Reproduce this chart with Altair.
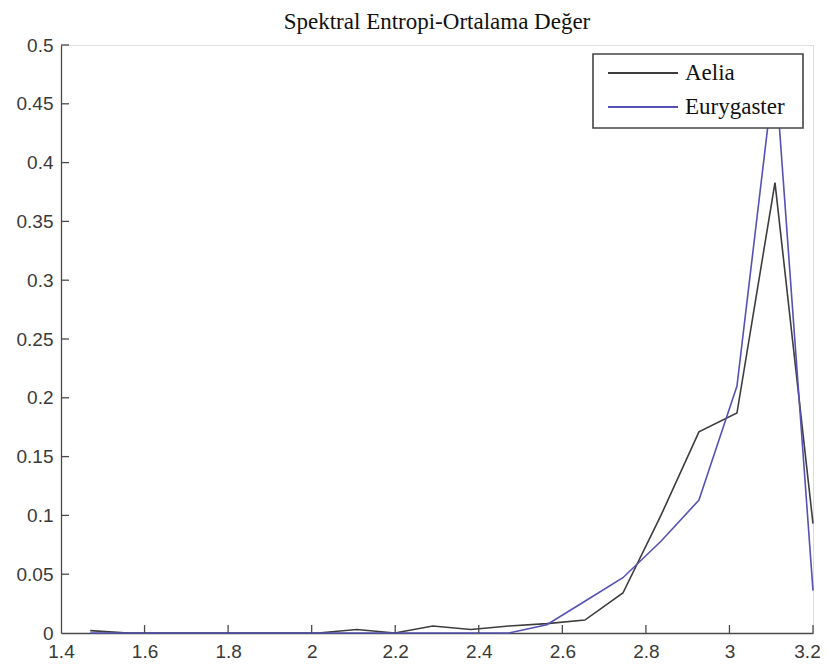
import altair as alt
import pandas as pd

# bin centres (x) and the two series
xs = [1.47, 1.561, 1.652, 1.743, 1.834, 1.925, 2.016, 2.108, 2.199, 2.290,
      2.381, 2.472, 2.563, 2.654, 2.745, 2.836, 2.927, 3.018, 3.109, 3.2]
aelia = [0.002, 0.0, 0.0, 0.0, 0.0, 0.0, 0.0, 0.003, 0.0, 0.006,
         0.003, 0.006, 0.008, 0.011, 0.034, 0.100, 0.171, 0.187, 0.383, 0.093]
eurygaster = [0.0, 0.0, 0.0, 0.0, 0.0, 0.0, 0.0, 0.0, 0.0, 0.0,
              0.0, 0.0, 0.007, 0.027, 0.047, 0.078, 0.113, 0.210, 0.482, 0.036]

x_ticks = [1.4, 1.6, 1.8, 2.0, 2.2, 2.4, 2.6, 2.8, 3.0, 3.2]
y_ticks = [0, 0.05, 0.1, 0.15, 0.2, 0.25, 0.3, 0.35, 0.4, 0.45, 0.5]

series_names = ["Aelia", "Eurygaster"]
series_colors = ["#3d3d3d", "#5552b4"]

W, H = 752, 588

df_a = pd.DataFrame({"x": xs, "y": aelia})
df_e = pd.DataFrame({"x": xs, "y": eurygaster})

xscale = alt.Scale(domain=[1.4, 3.2], nice=False, zero=False)
yscale = alt.Scale(domain=[0, 0.5], nice=False)

label_font = "Liberation Sans"

xaxis = alt.Axis(values=x_ticks, format="~g", title=None, ticks=False, grid=False,
                 labelFont=label_font, labelFontSize=19, labelColor="#3a3a3a",
                 labelPadding=9, domainColor="#4a4a4a", domainWidth=1.3,
                 labelFlush=False, labelOverlap=False,
                 labelOffset={"condition": {"test": "datum.value >= 3.19", "value": -6}, "value": 0})
yaxis = alt.Axis(values=y_ticks, format="~g", title=None, ticks=False, grid=False,
                 labelFont=label_font, labelFontSize=19, labelColor="#3a3a3a",
                 labelPadding=8, domainColor="#4a4a4a", domainWidth=1.3,
                 labelOverlap=False)

line_a = alt.Chart(df_a).mark_line(color=series_colors[0], strokeWidth=1.6).encode(
    x=alt.X("x:Q", scale=xscale, axis=xaxis),
    y=alt.Y("y:Q", scale=yscale, axis=yaxis),
)
line_e = alt.Chart(df_e).mark_line(color=series_colors[1], strokeWidth=1.6).encode(
    x=alt.X("x:Q", scale=xscale),
    y=alt.Y("y:Q", scale=yscale),
)

# inward ticks (MATLAB style)
xt = alt.Chart(pd.DataFrame({"v": x_ticks[1:]})).mark_rule(color="#4a4a4a", strokeWidth=1.3).encode(
    x=alt.X("v:Q", scale=xscale), y=alt.value(H), y2=alt.value(H - 8)
)
yt = alt.Chart(pd.DataFrame({"v": y_ticks[1:]})).mark_rule(color="#4a4a4a", strokeWidth=1.3).encode(
    y=alt.Y("v:Q", scale=yscale), x=alt.value(0), x2=alt.value(8)
)

# legend box
leg_box = alt.Chart(pd.DataFrame({"a": [0]})).mark_rect(
    fill="white", stroke="#444444", strokeWidth=1.6
).encode(x=alt.value(532), x2=alt.value(742), y=alt.value(9), y2=alt.value(83))

leg_df = pd.DataFrame({"name": series_names, "ypos": [28, 62], "color": series_colors})
leg_lines = alt.Chart(leg_df).mark_rule(strokeWidth=1.8).encode(
    x=alt.value(547), x2=alt.value(617), y=alt.Y("ypos:Q", scale=None),
    color=alt.Color("color:N", scale=None),
)
leg_text = alt.Chart(leg_df).mark_text(
    align="left", baseline="middle", font="Liberation Serif", fontSize=23, color="#111111", dx=0
).encode(
    x=alt.value(624), y=alt.Y("ypos:Q", scale=None), text="name:N"
)

chart = alt.layer(line_a, line_e, xt, yt, leg_box, leg_lines, leg_text).properties(
    width=W, height=H,
    title=alt.TitleParams("Spektral Entropi-Ortalama Değer", font="Liberation Serif",
                          fontSize=23, fontWeight="normal", color="#111111",
                          offset=2, anchor="middle"),
    autosize=alt.AutoSizeParams(type="none"),
    padding={"left": 53, "top": 37, "right": 7, "bottom": 30},
).configure_view(stroke=None).configure(background="white")

chart.save("out.html", embed_options={"renderer": "svg", "actions": False})
